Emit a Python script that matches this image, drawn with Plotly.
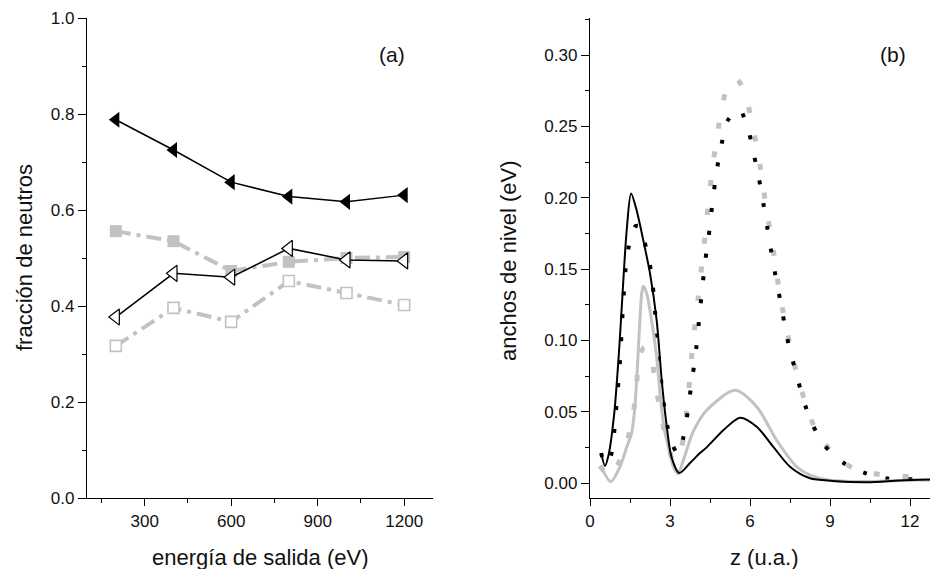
import plotly.graph_objects as go

W, H = 930, 569

# ---------------- Panel (a) data ----------------
energia = [200, 400, 600, 800, 1000, 1200]
tri_lleno = [0.788, 0.725, 0.658, 0.628, 0.617, 0.631]
tri_vacio = [0.377, 0.468, 0.460, 0.520, 0.496, 0.494]
cuad_lleno = [0.556, 0.535, 0.473, 0.492, 0.500, 0.502]
cuad_vacio = [0.317, 0.396, 0.367, 0.452, 0.427, 0.402]

# ---------------- Panel (b) data ----------------
z_negro = [0.42, 0.56, 0.7, 0.91, 1.1, 1.25, 1.375, 1.54, 1.75, 2.0, 2.25, 2.5, 2.69, 2.85,
           3.06, 3.35, 3.75, 4.125, 4.375, 5.0, 5.625, 6.25, 6.875, 7.5, 8.25, 9.1, 10.4,
           11.6, 12.75]
v_negro = [0.021, 0.012, 0.020, 0.049, 0.0955, 0.142, 0.177, 0.203, 0.191, 0.170, 0.147,
           0.114, 0.072, 0.044, 0.018, 0.007, 0.014, 0.021, 0.025, 0.037, 0.0458, 0.0395,
           0.0254, 0.0114, 0.0033, 0.0015, 0.0006, 0.0018, 0.0025]

z_gris = [0.4, 0.78, 1.125, 1.375, 1.56, 1.66, 1.75, 1.85, 1.94, 2.0, 2.125, 2.31, 2.5,
          2.625, 2.775, 2.94, 3.125, 3.3, 3.5, 3.87, 4.375, 5.44, 6.25, 7.0, 7.75, 8.25,
          9.0, 10.5, 12.0, 12.75]
v_gris = [0.012, 0.001, 0.0114, 0.025, 0.035, 0.049, 0.072, 0.107, 0.133, 0.138, 0.133,
          0.114, 0.0885, 0.063, 0.039, 0.025, 0.0114, 0.0065, 0.016, 0.036, 0.051, 0.065,
          0.0535, 0.030, 0.0114, 0.0056, 0.002, 0.001, 0.002, 0.002]

z_negro_punt = [0.42, 0.56, 0.78, 0.975, 1.125, 1.225, 1.35, 1.5, 1.7, 1.85, 2.125, 2.31,
                2.44, 2.625, 2.85, 3.06, 3.31, 3.5, 3.69, 3.81, 3.94, 4.125, 4.31, 4.44,
                4.54, 4.65, 4.77, 4.94, 5.16, 5.6, 5.96, 6.16, 6.34, 6.5, 6.65, 6.79, 6.95,
                7.125, 7.29, 7.46, 7.69, 8.06, 8.37, 8.81, 9.5, 10.35, 11.2, 12.1, 12.75]
v_negro_punt = [0.021, 0.013, 0.019, 0.051, 0.086, 0.12, 0.153, 0.170, 0.180, 0.180, 0.163,
                0.146, 0.120, 0.079, 0.045, 0.028, 0.0205, 0.032, 0.053, 0.071, 0.087,
                0.121, 0.154, 0.171, 0.188, 0.205, 0.221, 0.238, 0.254, 0.262, 0.2455,
                0.229, 0.213, 0.196, 0.179, 0.163, 0.146, 0.129, 0.112, 0.096, 0.0797,
                0.055, 0.040, 0.026, 0.0142, 0.0068, 0.003, 0.0026, 0.0025]

z_gris_punt = [0.375, 0.75, 1.0, 1.375, 1.625, 1.75, 1.85, 2.05, 2.25, 2.44, 2.625, 2.85,
               3.125, 3.3, 3.5, 3.7, 3.87, 4.06, 4.22, 4.34, 4.46, 4.59, 4.75, 4.94, 5.21,
               5.5, 5.81, 6.06, 6.29, 6.46, 6.625, 6.81, 6.975, 7.15, 7.375, 7.6, 7.81,
               8.125, 8.5, 9.125, 9.875, 11.0, 11.5, 12.56, 12.75]
v_gris_punt = [0.012, 0.0044, 0.0114, 0.028, 0.049, 0.070, 0.090, 0.095, 0.092, 0.072,
               0.051, 0.032, 0.016, 0.016, 0.032, 0.065, 0.100, 0.130, 0.1575, 0.178,
               0.1995, 0.2205, 0.2415, 0.262, 0.281, 0.283, 0.2738, 0.253, 0.2327, 0.212,
               0.191, 0.171, 0.150, 0.129, 0.108, 0.088, 0.073, 0.0535, 0.036, 0.0208,
               0.0103, 0.0056, 0.0049, 0.004, 0.004]

GRIS = "#c2c2c2"
FONT = "Liberation Sans, Arial, sans-serif"
TICKFONT = dict(family=FONT, size=17, color="#111111")

fig = go.Figure()

# panel (a)
fig.add_trace(go.Scatter(x=energia, y=cuad_vacio, mode="lines+markers", xaxis="x", yaxis="y",
                         line=dict(color=GRIS, width=4, dash="15px,6px,4px,6px"),
                         marker=dict(symbol="square", size=11, color="white",
                                     line=dict(color=GRIS, width=1.6)), showlegend=False))
fig.add_trace(go.Scatter(x=energia, y=cuad_lleno, mode="lines+markers", xaxis="x", yaxis="y",
                         line=dict(color=GRIS, width=4, dash="15px,6px,4px,6px"),
                         marker=dict(symbol="square", size=12, color=GRIS), showlegend=False))
fig.add_trace(go.Scatter(x=energia, y=tri_vacio, mode="lines+markers", xaxis="x", yaxis="y",
                         line=dict(color="black", width=1.5),
                         marker=dict(symbol="triangle-left", size=14, color="white",
                                     line=dict(color="black", width=1.2)), showlegend=False))
fig.add_trace(go.Scatter(x=energia, y=tri_lleno, mode="lines+markers", xaxis="x", yaxis="y",
                         line=dict(color="black", width=1.5),
                         marker=dict(symbol="triangle-left", size=14, color="black"),
                         showlegend=False))

# panel (b)
fig.add_trace(go.Scatter(x=z_gris_punt, y=v_gris_punt, mode="lines", xaxis="x2", yaxis="y2",
                         line=dict(color=GRIS, width=5, dash="6px,23px", shape="spline",
                                   smoothing=0.8), showlegend=False))
fig.add_trace(go.Scatter(x=z_negro_punt, y=v_negro_punt, mode="lines", xaxis="x2", yaxis="y2",
                         line=dict(color="black", width=4, dash="4px,19px", shape="spline",
                                   smoothing=0.8), showlegend=False))
fig.add_trace(go.Scatter(x=z_gris, y=v_gris, mode="lines", xaxis="x2", yaxis="y2",
                         line=dict(color=GRIS, width=3, shape="spline", smoothing=0.8),
                         showlegend=False))
fig.add_trace(go.Scatter(x=z_negro, y=v_negro, mode="lines", xaxis="x2", yaxis="y2",
                         line=dict(color="black", width=2, shape="spline", smoothing=0.8),
                         showlegend=False))

XA = [87 / W, 433 / W]
XB = [590 / W, 1.0]
YD = [(H - 498) / H, (H - 18) / H]

common = dict(showgrid=False, zeroline=False, showline=True, linecolor="black", linewidth=1.3,
              tickcolor="black", tickwidth=1.3, tickfont=TICKFONT, automargin=False)

fig.update_layout(
    width=W, height=H, margin=dict(l=0, r=0, t=0, b=0, autoexpand=False),
    plot_bgcolor="white", paper_bgcolor="white",
    xaxis=dict(domain=XA, range=[100, 1300], anchor="y", tick0=0, dtick=300, ticks="outside",
               ticklen=7, minor=dict(ticks="outside", ticklen=4, tick0=0, dtick=150,
                                     tickcolor="black", tickwidth=1.3), **common),
    yaxis=dict(domain=YD, range=[0, 1], anchor="x", tick0=0, dtick=0.2, tickformat=".1f",
               ticks="outside", ticklen=8,
               minor=dict(ticks="outside", ticklen=4, tick0=0, dtick=0.1, tickcolor="black",
                          tickwidth=1.3), **common),
    xaxis3=dict(overlaying="x", side="top", anchor="y", range=[100, 1300], tick0=0, dtick=300,
                ticks="inside", ticklen=7, showticklabels=False,
                minor=dict(ticks="inside", ticklen=4, tick0=0, dtick=150, tickcolor="black",
                           tickwidth=1.3), **common),
    yaxis3=dict(overlaying="y", side="right", anchor="x", range=[0, 1], tick0=0, dtick=0.2,
                ticks="inside", ticklen=8, showticklabels=False,
                minor=dict(ticks="inside", ticklen=4, tick0=0, dtick=0.1, tickcolor="black",
                           tickwidth=1.3), **common),
    xaxis2=dict(domain=XB, range=[0, 12.75], anchor="y2", tick0=0, dtick=3, ticks="outside",
                ticklen=7, minor=dict(ticks="outside", ticklen=4, tick0=0, dtick=1.5,
                                      tickcolor="black", tickwidth=1.3), **common),
    yaxis2=dict(domain=YD, range=[-0.0105, 0.326], anchor="x2", tick0=0, dtick=0.05,
                tickformat=".2f", ticks="outside", ticklen=8,
                minor=dict(ticks="outside", ticklen=4, tick0=0, dtick=0.025, tickcolor="black",
                           tickwidth=1.3), **common),
    xaxis4=dict(overlaying="x2", side="top", anchor="y2", range=[0, 12.75], tick0=0, dtick=3,
                ticks="inside", ticklen=7, showticklabels=False,
                minor=dict(ticks="inside", ticklen=4, tick0=0, dtick=1.5, tickcolor="black",
                           tickwidth=1.3), **common),
)
fig.update_layout(
    yaxis4=dict(overlaying="y2", side="right", anchor="x2", range=[-0.0105, 0.326], tick0=0,
                dtick=0.05, ticks="inside", ticklen=6, showticklabels=False, showgrid=False,
                zeroline=False, showline=False, tickcolor="black", tickwidth=1.3,
                automargin=False,
                minor=dict(ticks="inside", ticklen=3, tick0=0, dtick=0.025, tickcolor="black",
                           tickwidth=1.3)),
)

title_font = dict(family=FONT, size=22, color="#111111")
label_font = dict(family=FONT, size=21, color="#111111")


def ann(text, px, py, font, angle=0):
    fig.add_annotation(text=text, x=px / W, y=1 - py / H, xref="paper", yref="paper",
                       xanchor="center", yanchor="middle", showarrow=False,
                       textangle=angle, font=font)


ann("(a)", 392, 55, label_font)
ann("(b)", 893, 55, label_font)
ann("fracción de neutros", 24, 258, title_font, -90)
ann("anchos de nivel (eV)", 508, 261, title_font, -90)
ann("energía de salida (eV)", 260, 557, title_font)
ann("z (u.a.)", 764, 557, title_font)

fig.write_html(
    "out.html",
    config={"displayModeBar": False},
    post_script="document.body.style.margin='0';document.body.style.overflow='hidden';",
)
